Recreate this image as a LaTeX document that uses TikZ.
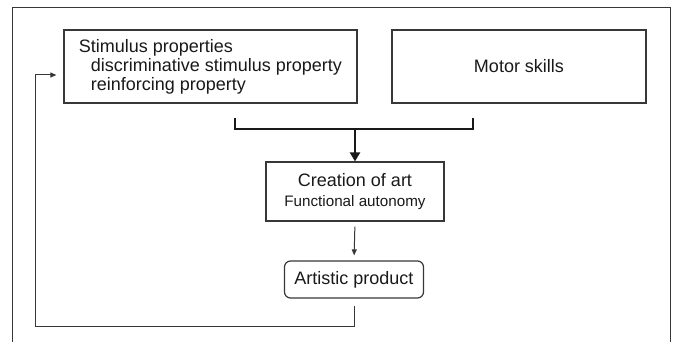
\documentclass[tikz,border=0pt]{standalone}
\usepackage{fontspec}
\setmainfont{Liberation Sans}
\usetikzlibrary{arrows.meta}
\definecolor{linegray}{RGB}{55,55,55}
\definecolor{textgray}{RGB}{25,25,25}
\tikzset{
  block/.style={draw=linegray, line width=1.2pt, text=textgray, inner sep=0pt, font=\fontsize{18}{19}\selectfont},
  roundblock/.style={block, rounded corners=6pt},
  bigarrow/.style={draw=black!90, line width=2.6pt, -{Triangle[length=9pt,width=10pt]}},
  smallarrow/.style={draw=linegray, line width=1pt, -{Triangle[length=6pt,width=5pt]}},
}
\begin{document}
\begin{tikzpicture}[x=1pt,y=-1pt]
\useasboundingbox (0,0) rectangle (673,342);
\draw[linegray, line width=1pt] (12,342) -- (12,8) -- (670,8) -- (670,342);
\node[block, minimum width=293pt, minimum height=73pt, align=left] (stim) at (210.5,66.5)
  {Stimulus properties\\\hspace*{12pt}discriminative stimulus property\\\hspace*{12pt}reinforcing property};
\node[block, minimum width=254pt, minimum height=73pt] (motor) at (519,66.5) {Motor skills};
\node[block, minimum width=178pt, minimum height=59pt, align=center] (create) at (355,191.5)
  {Creation of art\\[1pt]{\fontsize{15.2}{17}\selectfont Functional autonomy}};
\node[roundblock, minimum width=139pt, minimum height=37pt] (art) at (354,279.5) {Artistic product};
\coordinate (bl) at (235,118);
\coordinate (br) at (473,118);
\coordinate (join) at (355,129);
\coordinate (loop) at (35,326);
\draw[black!90, line width=2.6pt] (bl) |- (join) -| (br);
\draw[bigarrow] (join) -- (create.north);
\draw[smallarrow, shorten <=5pt, shorten >=5pt] (create.south) -- (art.north);
\draw[smallarrow, shorten <=7pt, shorten >=7pt] (art.south) |- (loop) |- ([yshift=-8.5pt]stim.west);
\end{tikzpicture}
\end{document}
